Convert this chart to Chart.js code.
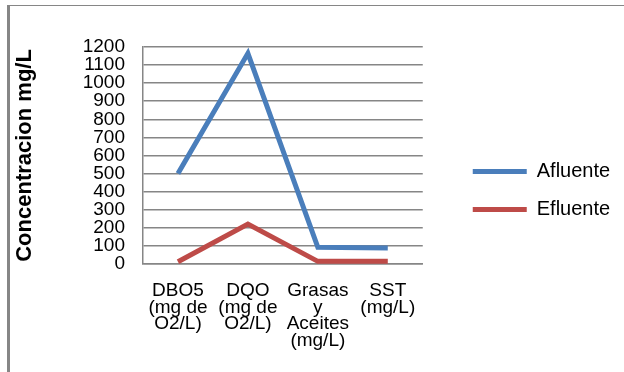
<!DOCTYPE html>
<html>
<head>
<meta charset="utf-8">
<script src="https://cdn.jsdelivr.net/npm/chart.js@4"></script>
<style>
  html, body { margin: 0; padding: 0; background: #fff; }
  #wrap { width: 624px; height: 372px; position: relative; }
</style>
</head>
<body>
<div id="wrap"><canvas id="chart"></canvas></div>
<script>
const categories = [
  ["DBO5", "(mg de", "O2/L)"],
  ["DQO", "(mg de", "O2/L)"],
  ["Grasas", "y", "Aceites", "(mg/L)"],
  ["SST", "(mg/L)"],
];
const afluente = [500, 1165, 92, 88];
const efluente = [12, 220, 14, 14];
const yTicks = { min: 0, max: 1200, step: 100 };

const FONT = "Arial, 'Liberation Sans', sans-serif";

// thin frame on the top and left like the pasted excel picture
const framePlugin = {
  id: "frame",
  beforeDraw(chart) {
    const ctx = chart.ctx;
    ctx.save();
    ctx.fillStyle = "#868686";
    ctx.fillRect(7, 5, 3, chart.height - 5);
    ctx.fillRect(7, 5, chart.width - 7, 1);
    ctx.restore();
  },
};

// excel leaves a gap between plot and legend, nudge the legend box over
const legendShift = {
  id: "legendShift",
  afterLayout(chart) {
    const lg = chart.legend;
    if (!lg) return;
    lg.left += 32;
    lg.right = chart.width;
    lg.top -= 17; lg.bottom -= 17;
  },
};

new Chart(document.getElementById("chart"), {
  type: "line",
  data: {
    labels: categories,
    datasets: [
      {
        label: "Afluente",
        data: afluente,
        borderColor: "#4a7ebb",
        backgroundColor: "#4a7ebb",
        borderWidth: 5,
        pointRadius: 0,
        tension: 0,
      },
      {
        label: "Efluente",
        data: efluente,
        borderColor: "#be4b48",
        backgroundColor: "#be4b48",
        borderWidth: 5,
        pointRadius: 0,
        tension: 0,
      },
    ],
  },
  options: {
    responsive: true,
    maintainAspectRatio: false,
    animation: false,
    layout: { padding: { left: 8, top: 47, right: 63, bottom: 4 } },
    plugins: {
      tooltip: { enabled: false },
      legend: {
        position: "right",
        align: "center",
        labels: {
          usePointStyle: true,
          pointStyle: "line",
          pointStyleWidth: 54,
          color: "#000",
          font: { family: FONT, size: 20 },
          padding: 18,
        },
      },
    },
    scales: {
      x: {
        offset: true,
        grid: { display: false, drawTicks: false },
        border: { color: "#868686", width: 1.5 },
        ticks: {
          color: "#000",
          font: { family: FONT, size: 19, lineHeight: 0.87 },
          padding: 19,
          maxRotation: 0,
          autoSkip: false,
        },
      },
      y: {
        min: yTicks.min,
        max: yTicks.max,
        afterFit(scale) { scale.width = 135; },
        grid: { color: "#868686", lineWidth: 1.5, drawTicks: false },
        border: { color: "#868686", width: 1.5 },
        ticks: {
          stepSize: yTicks.step,
          autoSkip: false,
          color: "#000",
          font: { family: FONT, size: 19, lineHeight: 1 },
          padding: 18,
          callback: (v) => String(v),
        },
        title: {
          display: true,
          text: "Concentracion mg/L",
          color: "#000",
          font: { family: FONT, size: 22, weight: "bold" },
          padding: { top: 4, bottom: 0 },
        },
      },
    },
  },
  plugins: [framePlugin, legendShift],
});
</script>
</body>
</html>
